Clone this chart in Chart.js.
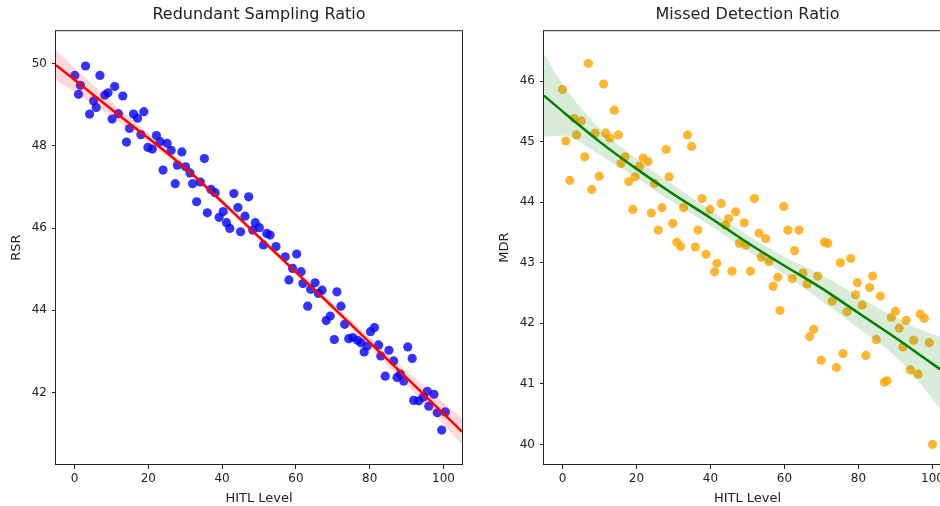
<!DOCTYPE html>
<html>
<head>
<meta charset="utf-8">
<script src="https://cdn.jsdelivr.net/npm/chart.js@4"></script>
<style>
  html, body { margin: 0; padding: 0; background: #fff; overflow: hidden; }
  #wrap { position: relative; width: 940px; height: 506px; overflow: hidden; }
  canvas { position: absolute; top: 0; }
</style>
</head>
<body>
<div id="wrap">
  <canvas id="rsrChart" width="470" height="506" style="left:0"></canvas>
  <canvas id="mdrChart" width="490" height="506" style="left:470px"></canvas>
</div>
<script>
// tick labels
let hitlTicks = [0, 20, 40, 60, 80, 100];
let rsrTicks = [42, 44, 46, 48, 50];
let mdrTicks = [40, 41, 42, 43, 44, 45, 46];

// Redundant Sampling Ratio scatter
let rsrX = [0.1, 1.1, 1.6, 3.0, 4.1, 5.2, 5.9, 6.9, 8.2, 9.1, 10.2, 10.9, 11.9, 13.1, 14.1, 14.9, 16.0, 17.1, 18.0, 18.8,
  19.9, 21.1, 22.2, 23.2, 24.0, 25.1, 26.2, 27.3, 27.9, 29.1, 30.1, 31.3, 32.0, 33.1, 34.1, 35.2, 36.0, 37.0, 38.1, 39.2,
  40.3, 41.2, 42.1, 43.2, 44.3, 45.0, 46.2, 47.2, 48.3, 49.0, 50.1, 51.2, 52.1, 53.0, 54.6, 57.1, 58.1, 59.1, 60.2, 61.4,
  61.9, 63.2, 64.0, 65.2, 66.1, 67.1, 68.2, 69.3, 70.4, 71.1, 72.2, 73.2, 74.3, 75.4, 76.7, 77.6, 78.5, 79.3, 80.2, 81.3,
  82.4, 83.0, 84.2, 85.2, 86.5, 87.4, 88.3, 89.2, 90.3, 91.5, 91.9, 93.3, 94.5, 95.6, 96.0, 97.4, 98.3, 99.5, 100.5];
let rsrY = [49.71, 49.25, 49.47, 49.94, 48.77, 49.09, 48.93, 49.71, 49.23, 49.29, 48.65, 49.44, 48.78, 49.21, 48.09, 48.42, 48.77, 48.67, 48.27, 48.83,
  47.96, 47.92, 48.25, 48.10, 47.41, 48.06, 47.89, 47.08, 47.53, 47.85, 47.49, 47.34, 47.08, 46.64, 47.12, 47.69, 46.37, 46.94, 46.86, 46.26,
  46.40, 46.13, 45.99, 46.84, 46.50, 45.91, 46.29, 46.76, 45.95, 46.13, 46.01, 45.59, 45.87, 45.83, 45.55, 45.30, 44.74, 45.02, 45.37, 44.94,
  44.65, 44.10, 44.51, 44.67, 44.41, 44.49, 43.75, 43.86, 43.29, 44.45, 44.10, 43.66, 43.31, 43.34, 43.27, 43.21, 42.99, 43.13, 43.48, 43.58,
  43.16, 42.89, 42.40, 43.03, 42.77, 42.37, 42.45, 42.28, 43.11, 42.83, 41.81, 41.80, 41.89, 42.03, 41.67, 41.96, 41.51, 41.09, 41.53];

// RSR fitted line and confidence band
let rsrFitX = [-5, 10, 30, 50, 70, 90, 105];
let rsrFitY = [49.96, 48.89, 47.46, 45.78, 44.08, 42.36, 41.05];
let rsrFitUpper = [50.32, 49.07, 47.54, 45.85, 44.17, 42.53, 41.37];
let rsrFitLower = [49.60, 48.71, 47.38, 45.71, 43.99, 42.19, 40.73];

// Missed Detection Ratio scatter
let mdrX = [0.0, 0.9, 2.0, 3.2, 3.8, 5.1, 6.0, 7.0, 7.9, 8.8, 9.9, 11.1, 11.7, 12.8, 14.0, 15.1, 15.8, 16.9, 17.9, 19.0,
  19.6, 20.8, 21.8, 23.1, 24.0, 24.9, 25.9, 26.9, 28.0, 28.8, 29.8, 30.9, 31.9, 32.7, 33.8, 34.9, 35.9, 36.6, 37.7, 38.8,
  39.9, 41.1, 41.7, 42.9, 44.0, 44.9, 45.8, 46.8, 47.8, 49.1, 49.5, 50.8, 51.9, 53.1, 53.7, 54.9, 55.8, 56.9, 58.2, 58.8,
  59.8, 60.9, 62.1, 62.7, 63.9, 65.0, 66.1, 66.8, 67.9, 69.0, 69.9, 70.8, 71.7, 72.9, 74.0, 75.1, 75.8, 76.9, 77.9, 79.2,
  79.7, 81.0, 82.0, 83.0, 83.8, 84.8, 85.9, 87.0, 87.7, 88.9, 90.0, 91.0, 92.0, 92.9, 94.0, 94.9, 96.1, 96.7, 97.8, 99.1, 100.0];
let mdrY = [45.86, 45.01, 44.36, 45.38, 45.11, 45.34, 44.75, 46.29, 44.21, 45.14, 44.43, 45.95, 45.14, 45.06, 45.52, 45.11, 44.64, 44.75, 44.34, 43.88,
  44.42, 44.59, 44.73, 44.67, 43.82, 44.31, 43.54, 43.91, 44.87, 44.42, 43.65, 43.34, 43.27, 43.91, 45.11, 44.92, 43.26, 43.54, 44.06, 43.14,
  43.88, 42.85, 42.99, 43.98, 43.62, 43.73, 42.86, 43.84, 43.32, 43.66, 43.29, 42.86, 44.06, 43.49, 43.09, 43.40, 43.02, 42.61, 42.76, 42.21,
  43.93, 43.54, 42.74, 43.20, 43.54, 42.83, 42.65, 41.78, 41.90, 42.78, 41.39, 43.34, 43.32, 42.37, 41.27, 43.00, 41.50, 42.19, 43.07, 42.47,
  42.67, 42.30, 41.47, 42.59, 42.78, 41.73, 42.45, 41.03, 41.05, 42.10, 42.20, 41.92, 41.61, 42.05, 41.23, 41.72, 41.16, 42.15, 42.08, 41.68, 40.00];

// MDR fitted curve and confidence band
let mdrFitX = [-5, 0, 10, 20, 30, 40, 50, 60, 70, 80, 90, 100, 105];
let mdrFitY = [45.76, 45.50, 45.00, 44.55, 44.13, 43.74, 43.33, 42.95, 42.58, 42.17, 41.76, 41.33, 41.12];
let mdrFitUpper = [46.45, 45.95, 45.22, 44.72, 44.28, 43.87, 43.46, 43.10, 42.80, 42.44, 42.10, 41.82, 41.74];
let mdrFitLower = [45.08, 45.10, 44.78, 44.40, 43.99, 43.61, 43.20, 42.81, 42.37, 41.92, 41.45, 40.75, 40.30];

let font = "'DejaVu Sans', sans-serif";

function pairs(xs, ys) {
  return xs.map((x, i) => ({ x: x, y: ys[i] }));
}

let framePlugin = {
  id: "frame",
  afterDraw(chart) {
    let a = chart.chartArea;
    let ctx = chart.ctx;
    ctx.save();
    ctx.strokeStyle = "#222";
    ctx.lineWidth = 1;
    ctx.strokeRect(a.left - 0.5, a.top + 0.5, a.right - a.left + 1, a.bottom - a.top - 1);
    ctx.restore();
  },
};

function makeChart(id, cfg) {
  return new Chart(document.getElementById(id).getContext("2d"), {
    type: "scatter",
    data: {
      datasets: [
        {
          type: "line",
          data: pairs(cfg.fitX, cfg.upper),
          borderWidth: 0,
          pointRadius: 0,
          fill: false,
          cubicInterpolationMode: "monotone",
          order: 2,
        },
        {
          type: "line",
          data: pairs(cfg.fitX, cfg.lower),
          borderWidth: 0,
          pointRadius: 0,
          fill: "-1",
          backgroundColor: cfg.bandColor,
          cubicInterpolationMode: "monotone",
          order: 2,
        },
        {
          type: "line",
          data: pairs(cfg.fitX, cfg.fitY),
          borderColor: cfg.lineColor,
          borderWidth: 2.5,
          pointRadius: 0,
          fill: false,
          cubicInterpolationMode: "monotone",
          order: 1,
        },
        {
          data: pairs(cfg.xs, cfg.ys),
          backgroundColor: cfg.pointColor,
          borderWidth: 0,
          pointRadius: 4.6,
          order: 3,
        },
      ],
    },
    options: {
      responsive: false,
      animation: false,
      events: [],
      layout: { padding: { left: 0, right: cfg.padRight, top: 0, bottom: 0 } },
      plugins: {
        legend: { display: false },
        tooltip: { enabled: false },
        title: {
          display: true,
          text: cfg.title,
          fullSize: false,
          color: "#222",
          font: { family: font, size: 16, weight: "normal" },
          padding: { top: 5, bottom: 6 },
        },
      },
      scales: {
        x: {
          type: "linear",
          min: -5,
          max: 105,
          afterBuildTicks: (s) => { s.ticks = hitlTicks.map((v) => ({ value: v })); },
          afterFit: (s) => { s.height = 41; },
          border: { display: false },
          grid: { drawOnChartArea: false, drawTicks: true, tickLength: 4, tickColor: "#222" },
          ticks: { color: "#222", font: { family: font, size: 12 }, padding: 3, maxRotation: 0 },
          title: {
            display: true,
            text: "HITL Level",
            color: "#222",
            font: { family: font, size: 13 },
            padding: { top: 0, bottom: 0 },
          },
        },
        y: {
          min: cfg.yMin,
          max: cfg.yMax,
          afterBuildTicks: (s) => { s.ticks = cfg.yTicks.map((v) => ({ value: v })); },
          afterFit: (s) => { s.width = cfg.yWidth; },
          border: { display: false },
          grid: { drawOnChartArea: false, drawTicks: true, tickLength: 4, tickColor: "#222" },
          ticks: { color: "#222", font: { family: font, size: 12 }, padding: 5 },
          title: {
            display: true,
            text: cfg.yTitle,
            color: "#222",
            font: { family: font, size: 13 },
            padding: { top: cfg.yTitlePad, bottom: 0 },
          },
        },
      },
    },
    plugins: [framePlugin],
  });
}

makeChart("rsrChart", {
  title: "Redundant Sampling Ratio",
  yTitle: "RSR",
  xs: rsrX, ys: rsrY,
  fitX: rsrFitX, fitY: rsrFitY, upper: rsrFitUpper, lower: rsrFitLower,
  pointColor: "rgba(0, 0, 255, 0.8)",
  lineColor: "#ff0000",
  bandColor: "rgba(255, 0, 0, 0.15)",
  yMin: 40.24, yMax: 50.81,
  yTicks: rsrTicks,
  yWidth: 56,
  yTitlePad: 9,
  padRight: 8,
});

makeChart("mdrChart", {
  title: "Missed Detection Ratio",
  yTitle: "MDR",
  xs: mdrX, ys: mdrY,
  fitX: mdrFitX, fitY: mdrFitY, upper: mdrFitUpper, lower: mdrFitLower,
  pointColor: "rgba(255, 165, 0, 0.8)",
  lineColor: "#008000",
  bandColor: "rgba(0, 128, 0, 0.15)",
  yMin: 39.66, yMax: 46.84,
  yTicks: mdrTicks,
  yWidth: 74,
  yTitlePad: 27,
  padRight: 9,
});
</script>
</body>
</html>
